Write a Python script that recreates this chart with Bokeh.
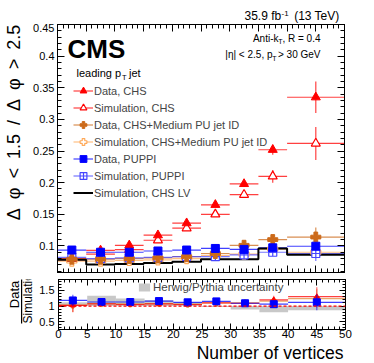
import numpy as np
from bokeh.plotting import figure
from bokeh.models import (Range1d, LinearAxis, Label, Legend, LegendItem, Span,
                          FixedTicker, BoxAnnotation)
from bokeh.layouts import column, row
from bokeh.embed import file_html
from bokeh.resources import INLINE

# ---------------- data ----------------
bin_lo = [0, 5, 10, 15, 20, 25, 30, 35, 40]
bin_hi = [5, 10, 15, 20, 25, 30, 35, 40, 50]
centers = [2.5, 7.5, 12.5, 17.5, 22.5, 27.5, 32.5, 37.5, 45]

data_chs = [0.080, 0.093, 0.101, 0.117, 0.136, 0.165, 0.198, 0.252, 0.335]
data_chs_err = [0.003, 0.003, 0.003, 0.003, 0.003, 0.003, 0.004, 0.008, 0.025]
sim_chs = [0.078, 0.087, 0.094, 0.109, 0.128, 0.150, 0.181, 0.210, 0.262]
sim_chs_err = [0.002, 0.002, 0.002, 0.002, 0.003, 0.003, 0.004, 0.010, 0.026]

data_med = [0.079, 0.079, 0.080, 0.081, 0.083, 0.088, 0.101, 0.110, 0.114]
data_med_err = [0.008, 0.005, 0.004, 0.004, 0.004, 0.004, 0.005, 0.006, 0.015]
sim_med = [0.076, 0.076, 0.077, 0.078, 0.080, 0.085, 0.087, 0.095, 0.090]
sim_med_err = [0.003, 0.003, 0.003, 0.003, 0.003, 0.003, 0.004, 0.006, 0.010]

data_puppi = [0.0935, 0.090, 0.090, 0.092, 0.0935, 0.096, 0.0945, 0.097, 0.0995]
data_puppi_err = [0.003, 0.003, 0.003, 0.003, 0.003, 0.003, 0.004, 0.005, 0.008]
sim_puppi = [0.082, 0.080, 0.081, 0.082, 0.083, 0.083, 0.086, 0.090, 0.088]
sim_puppi_err = [0.002, 0.002, 0.002, 0.002, 0.002, 0.003, 0.004, 0.006, 0.012]

sim_chs_lv = [0.078, 0.0705, 0.0715, 0.073, 0.075, 0.079, 0.079, 0.096, 0.086]

ratio_chs = [1.02, 1.07, 1.05, 1.07, 1.05, 1.10, 1.09, 1.20, 1.30]
ratio_chs_err = [0.22, 0.05, 0.04, 0.04, 0.04, 0.05, 0.06, 0.13, 0.30]
ratio_med = [1.03, 1.08, 1.07, 1.08, 1.06, 1.10, 1.10, 1.16, 1.24]
ratio_med_err = [0.22, 0.05, 0.04, 0.04, 0.04, 0.05, 0.06, 0.13, 0.30]
ratio_puppi = [1.18, 1.13, 1.13, 1.16, 1.12, 1.15, 1.09, 1.06, 1.12]
ratio_puppi_err = [0.18, 0.04, 0.04, 0.04, 0.04, 0.05, 0.06, 0.10, 0.25]

band_lo = [1.0, 1.0, 1.0, 1.0, 1.0, 0.97, 0.89, 0.80, 0.87]
band_hi = [1.12, 1.33, 1.24, 1.19, 1.13, 1.0, 1.0, 1.0, 1.0]

x_ticks = list(range(0, 51, 5))
x_minor = list(range(0, 51, 1))
y_ticks = [0.1, 0.15, 0.2, 0.25, 0.3, 0.35, 0.4, 0.45]
y_minor = [round(0.06 + 0.01 * i, 2) for i in range(40)]
r_ticks = [0.5, 1.0, 1.5]
r_minor = [round(0.3 + 0.1 * i, 1) for i in range(16)]

FONT = "Liberation Sans"
RED = "#ff0000"
ORANGE_D = "#cc6a1a"
ORANGE_S = "#ffaa5a"
BLUE_D = "#0000ff"
BLUE_S = "#4646ff"
K_BASE = 0.37  # measured offset of Bokeh's "alphabetic" anchor, in em


def style_axes(p, xt, xm, yt, ym, show_x_labels, ylab_size, major_len, minor_len, ystand):
    for ax in [p.xaxis[0], p.yaxis[0]]:
        ax.major_tick_in = major_len
        ax.major_tick_out = 0
        ax.minor_tick_in = minor_len
        ax.minor_tick_out = 0
        ax.axis_line_color = "black"
        ax.major_label_text_font = FONT
        ax.major_label_text_color = "black"
    p.xaxis[0].ticker = FixedTicker(ticks=xt, minor_ticks=xm)
    p.yaxis[0].ticker = FixedTicker(ticks=yt, minor_ticks=ym)
    p.yaxis[0].major_label_text_font_size = ylab_size
    p.yaxis[0].major_label_standoff = ystand
    if show_x_labels:
        p.xaxis[0].major_label_text_font_size = "11.5px"
        p.xaxis[0].major_label_standoff = 0
    else:
        p.xaxis[0].major_label_text_font_size = "0px"
        p.xaxis[0].major_label_standoff = 0
    top = LinearAxis(ticker=FixedTicker(ticks=xt, minor_ticks=xm))
    right = LinearAxis(ticker=FixedTicker(ticks=yt, minor_ticks=ym))
    for ax in [top, right]:
        ax.major_tick_in = major_len
        ax.major_tick_out = 0
        ax.minor_tick_in = minor_len
        ax.minor_tick_out = 0
        ax.major_label_text_font_size = "0px"
        ax.major_label_standoff = 0
        ax.axis_line_color = "black"
    p.add_layout(top, "above")
    p.add_layout(right, "right")
    p.xgrid.visible = False
    p.ygrid.visible = False
    p.outline_line_color = "black"


def lab(p, fl, fb, px, py, text, size, angle=0.0, **kw):
    # (px, py): wanted baseline anchor in page pixels; fl/fb: page x of frame left, page y of frame bottom
    fs = float(size.replace("px", ""))
    if angle == 0.0:
        py = py - K_BASE * fs
    else:
        px = px - K_BASE * fs
    opts = dict(text_font=FONT, text_font_size=size, text_color="black",
                text_baseline="alphabetic", text_align="left")
    opts.update(kw)
    p.add_layout(Label(x=px - fl, y=fb - py, x_units="screen", y_units="screen",
                       text=text, angle=angle, **opts))


def text_fig(w, h):
    f = figure(width=w, height=h, x_axis_type=None, y_axis_type=None, min_border=0,
               toolbar_location=None, output_backend="svg",
               background_fill_color="white", border_fill_color="white",
               x_range=Range1d(0, 1), y_range=Range1d(0, 1))
    f.outline_line_color = None
    f.xgrid.visible = False
    f.ygrid.visible = False
    return f


# ---------------- top strip (lumi text), page y 0..23 ----------------
p0 = text_fig(374, 23)
lab(p0, 0, 23, 244, 20.3, "35.9 fb", "12px")
lab(p0, 0, 23, 281, 15.5, "-1", "8px")
lab(p0, 0, 23, 339, 20.3, "(13 TeV)", "12px", text_align="right")

# ---------------- main panel, page y 23..275 ----------------
p1 = figure(frame_width=287, frame_height=248, x_range=Range1d(0, 50),
            y_range=Range1d(0.058, 0.45), min_border_left=31, min_border_right=30,
            min_border_top=1, min_border_bottom=3, toolbar_location=None,
            output_backend="svg", background_fill_color="white",
            border_fill_color="white")
style_axes(p1, x_ticks, x_minor, y_ticks, y_minor, False, "11px", 7, 4, 3)
F1_LEFT, F1_BOTTOM = 57, 272


def series(p, y, err, color, lalpha=0.75):
    ya = np.array(y)
    ea = np.array(err)
    h = p.segment(x0=bin_lo, y0=ya, x1=bin_hi, y1=ya, line_color=color,
                  line_alpha=lalpha, line_width=1.2)
    p.segment(x0=centers, y0=ya - ea, x1=centers, y1=ya + ea, line_color=color,
              line_alpha=lalpha, line_width=1.2)
    return h


h_dchs = series(p1, data_chs, data_chs_err, RED)
h_schs = series(p1, sim_chs, sim_chs_err, RED)
h_dmed = series(p1, data_med, data_med_err, ORANGE_D)
h_smed = series(p1, sim_med, sim_med_err, ORANGE_S)
h_dpup = series(p1, data_puppi, data_puppi_err, BLUE_D)
h_spup = series(p1, sim_puppi, sim_puppi_err, BLUE_S)

lv_x = bin_lo + [bin_hi[-1]]
lv_y = sim_chs_lv + [sim_chs_lv[-1]]
lv = p1.step(x=lv_x, y=lv_y, mode="after", line_color="black", line_width=2)

m_schs = p1.scatter(centers, sim_chs, marker="triangle", size=9, fill_color="white", line_color=RED, line_width=1.2)
m_smed = p1.scatter(centers, sim_med, marker="plus", size=10, fill_color="white", line_color=ORANGE_S, line_width=1.2)
m_spup = p1.scatter(centers, sim_puppi, marker="square_cross", size=8, fill_color="white", line_color=BLUE_S, line_width=1.2)
m_dchs = p1.scatter(centers, data_chs, marker="triangle", size=9, fill_color=RED, line_color=RED)
m_dmed = p1.scatter(centers, data_med, marker="plus", size=10, fill_color=ORANGE_D, line_color=ORANGE_D)
m_dpup = p1.scatter(centers, data_puppi, marker="square", size=8, fill_color=BLUE_D, line_color=BLUE_D)

legend = Legend(items=[
    LegendItem(label="Data, CHS", renderers=[h_dchs, m_dchs]),
    LegendItem(label="Simulation, CHS", renderers=[h_schs, m_schs]),
    LegendItem(label="Data, CHS+Medium PU jet ID", renderers=[h_dmed, m_dmed]),
    LegendItem(label="Simulation, CHS+Medium PU jet ID", renderers=[h_smed, m_smed]),
    LegendItem(label="Data, PUPPI", renderers=[h_dpup, m_dpup]),
    LegendItem(label="Simulation, PUPPI", renderers=[h_spup, m_spup]),
    LegendItem(label="Simulation, CHS LV", renderers=[lv]),
], location=(16, 71), glyph_width=20, glyph_height=17, label_height=17, spacing=0,
    padding=0, margin=0, label_standoff=1, border_line_alpha=0,
    background_fill_alpha=0, label_text_font=FONT, label_text_font_size="11px",
    label_text_baseline="middle")
p1.add_layout(legend)

lab(p1, F1_LEFT, F1_BOTTOM, 67, 58.5, "CMS", "26px", text_font_style="bold")
lab(p1, F1_LEFT, F1_BOTTOM, 76, 77, "leading p", "11px")
lab(p1, F1_LEFT, F1_BOTTOM, 121.5, 80, "T", "7.5px")
lab(p1, F1_LEFT, F1_BOTTOM, 128.5, 77, "jet", "11px")
lab(p1, F1_LEFT, F1_BOTTOM, 320, 41.5, ", R = 0.4", "10px", text_align="right")
lab(p1, F1_LEFT, F1_BOTTOM, 282, 44, "T", "7px", text_align="right")
lab(p1, F1_LEFT, F1_BOTTOM, 278, 41.5, "Anti-k", "10px", text_align="right")
lab(p1, F1_LEFT, F1_BOTTOM, 320, 58, "> 30 GeV", "10px", text_align="right")
lab(p1, F1_LEFT, F1_BOTTOM, 276, 60.5, "T", "7px", text_align="right")
lab(p1, F1_LEFT, F1_BOTTOM, 272, 58, "|\u03b7| < 2.5, p", "10px", text_align="right")

# left strip with the y title of the main panel (page x 0..26, y 23..275)
pL1 = text_fig(26, 252)
lab(pL1, 0, 275, 20.5, 125,
    "\u0394\u2002\u03c6\u2002<\u20021.5\u2002/\u2002\u0394\u2002\u03c6\u2002>\u20022.5",
    "18px", angle=np.pi / 2, text_align="center")

# ---------------- ratio panel, page y 275..343 (frame 279..329) ----------------
p2 = figure(frame_width=287, frame_height=50, x_range=Range1d(0, 50),
            y_range=Range1d(0.25, 1.85), min_border_left=21, min_border_right=30,
            min_border_top=4, min_border_bottom=14, toolbar_location=None,
            output_backend="svg", background_fill_color="white",
            border_fill_color="white")
style_axes(p2, x_ticks, x_minor, r_ticks, r_minor, True, "11px", 6, 3, 4)

band = p2.quad(left=bin_lo, right=bin_hi, bottom=band_lo, top=band_hi,
               fill_color="#c8c8c8", line_color=None)
p2.add_layout(Span(location=1.0, dimension="width", line_color=RED,
                   line_dash="3 2", line_width=1.2))


def rseries(p, y, err, color, marker, size):
    ya = np.array(y)
    ea = np.array(err)
    p.segment(x0=bin_lo, y0=ya, x1=bin_hi, y1=ya, line_color=color, line_alpha=0.75, line_width=1.2)
    p.segment(x0=centers, y0=ya - ea, x1=centers, y1=ya + ea, line_color=color, line_alpha=0.6, line_width=1.2)
    p.scatter(centers, ya, marker=marker, size=size, fill_color=color, line_color=color)


rseries(p2, ratio_med, ratio_med_err, "#e08a3a", "plus", 6)
rseries(p2, ratio_chs, ratio_chs_err, RED, "triangle", 5)
rseries(p2, ratio_puppi, ratio_puppi_err, BLUE_D, "square", 7)

leg2 = Legend(items=[LegendItem(label="Herwig/Pythia uncertainty", renderers=[band])],
              location=(79, 36), glyph_width=14, glyph_height=10, label_height=10,
              padding=0, margin=0, label_standoff=2, border_line_alpha=0,
              background_fill_alpha=0, label_text_font=FONT,
              label_text_font_size="11.5px", label_text_baseline="middle")
p2.add_layout(leg2)

# left strip with the ratio title (page x 0..36, y 275..343)
pL2 = text_fig(36, 68)
lab(pL2, 0, 343, 19, 308, "Data", "13px", angle=np.pi / 2, text_align="center")
pL2.add_layout(BoxAnnotation(left=20.5, right=21.7, bottom=343 - 337, top=343 - 279,
                             left_units="screen", right_units="screen",
                             bottom_units="screen", top_units="screen",
                             fill_color="black", fill_alpha=1, line_color=None))
lab(pL2, 0, 343, 31.5, 309, "Simulation", "12px", angle=np.pi / 2, text_align="center")

# bottom strip with the x title (page y 343..363)
p3 = text_fig(374, 20)
lab(p3, 0, 363, 343, 359, "Number of vertices", "17.5px", text_align="right")

layout = column(p0, row(pL1, p1), row(pL2, p2), p3)
open("out.html", "w").write(file_html(layout, INLINE))
